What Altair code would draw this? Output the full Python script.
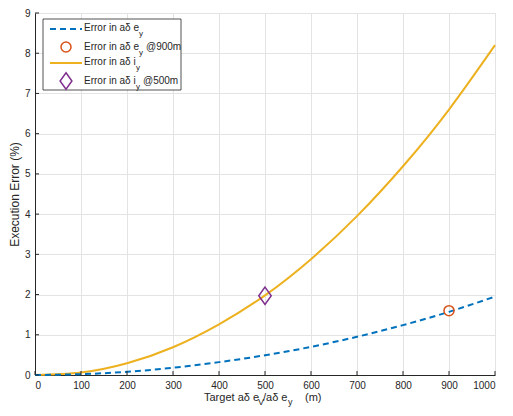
import altair as alt
import pandas as pd

# ---- data ----
target = [0, 100, 200, 300, 400, 500, 600, 700, 800, 900, 1000]
err_e = [0.0, 0.02, 0.08, 0.18, 0.32, 0.49, 0.70, 0.95, 1.24, 1.57, 1.95]
err_i = [0.0, 0.06, 0.29, 0.69, 1.26, 1.98, 2.88, 3.95, 5.19, 6.60, 8.20]
marker_e_x = [900]
marker_e_y = [1.60]
marker_i_x = [500]
marker_i_y = [1.97]
x_ticks = [0, 100, 200, 300, 400, 500, 600, 700, 800, 900, 1000]
y_ticks = [0, 1, 2, 3, 4, 5, 6, 7, 8, 9]

W, H = 460, 362
FONT = "Liberation Sans"
TXT = "#262626"
BLUE = "#0072BD"
ORANGE = "#EDB120"
RED = "#D95319"
PURPLE = "#7E2F8E"
DIAMOND = "M0,-1L0.72,0L0,1L-0.72,0Z"
YTITLE = "Execution Error (%)"

df = pd.DataFrame({"target": target, "err_e": err_e, "err_i": err_i})
dme = pd.DataFrame({"x": marker_e_x, "y": marker_e_y})
dmi = pd.DataFrame({"x": marker_i_x, "y": marker_i_y})
dxt = pd.DataFrame({"xt": x_ticks})
dyt = pd.DataFrame({"yt": y_ticks})
one = pd.DataFrame({"a": [0]})

xs = alt.Scale(domain=[0, 1000], nice=False, zero=False)
ys = alt.Scale(domain=[0, 9], nice=False, zero=False)

xaxis = alt.Axis(values=x_ticks, format="d")
yaxis = alt.Axis(values=y_ticks, format="d")


def X(field):
    return alt.X(field, type="quantitative", scale=xs, axis=xaxis, title=None)


def Y(field):
    return alt.Y(field, type="quantitative", scale=ys, axis=yaxis, title=YTITLE)


line_i = alt.Chart(df).mark_line(color=ORANGE, strokeWidth=2, interpolate="natural").encode(
    x=X("target"), y=Y("err_i"))
line_e = alt.Chart(df).mark_line(color=BLUE, strokeWidth=2, strokeDash=[6, 4],
                                  interpolate="natural").encode(
    x=X("target"), y=Y("err_e"))
pt_e = alt.Chart(dme).mark_point(shape="circle", size=100, color=RED, strokeWidth=1.5,
                                 filled=False, opacity=1).encode(x=X("x"), y=Y("y"))
pt_i = alt.Chart(dmi).mark_point(shape=DIAMOND, size=300, color=PURPLE, strokeWidth=1.5,
                                 filled=False, opacity=1).encode(x=X("x"), y=Y("y"))

xtick = alt.Chart(dxt).mark_rule(color=TXT, strokeWidth=1).encode(
    x=X("xt"), y=alt.value(H), y2=alt.value(H - 4))
ytick = alt.Chart(dyt).mark_rule(color=TXT, strokeWidth=1).encode(
    y=Y("yt"), x=alt.value(0), x2=alt.value(4))


def txt(s, x, y, size=10, color=TXT):
    return alt.Chart(one).mark_text(text=s, align="left", baseline="middle", font=FONT,
                                    fontSize=size, color=color).encode(
        x=alt.value(x), y=alt.value(y))


# legend
box = alt.Chart(one).mark_rect(fill="white", stroke=TXT, strokeWidth=0.8).encode(
    x=alt.value(8), x2=alt.value(146), y=alt.value(6), y2=alt.value(77))
leg_l1 = alt.Chart(one).mark_rule(color=BLUE, strokeWidth=2, strokeDash=[6, 4]).encode(
    x=alt.value(15), x2=alt.value(47), y=alt.value(16))
leg_l3 = alt.Chart(one).mark_rule(color=ORANGE, strokeWidth=2).encode(
    x=alt.value(15), x2=alt.value(47), y=alt.value(50))
leg_m2 = alt.Chart(one).mark_point(shape="circle", size=100, color=RED, strokeWidth=1.5,
                                   filled=False, opacity=1).encode(
    x=alt.value(31), y=alt.value(34))
leg_m4 = alt.Chart(one).mark_point(shape=DIAMOND, size=270, color=PURPLE, strokeWidth=1.5,
                                   filled=False, opacity=1).encode(
    x=alt.value(31), y=alt.value(68))

legend = [
    box, leg_l1, leg_l3, leg_m2, leg_m4,
    txt("Error in aδ e", 49, 15), txt("y", 104, 21, 8),
    txt("Error in aδ e", 49, 34), txt("y", 104, 40, 8), txt("@900m", 111, 34),
    txt("Error in aδ i", 49, 49), txt("y", 101, 55, 8),
    txt("Error in aδ i", 49, 68), txt("y", 101, 74, 8), txt("@500m", 108, 68),
]

# x axis title with subscripts
xtitle = [
    txt("Target aδ e", 169, 385, 11), txt("V", 223, 389, 9),
    txt("/aδ e", 228, 385, 11), txt("y", 253, 389, 9),
    txt("(m)", 270, 385, 11),
]

chart = alt.layer(line_i, line_e, xtick, ytick, pt_e, pt_i, *legend, *xtitle).properties(
    width=W, height=H,
    autosize=alt.AutoSizeParams(type="none"),
    padding={"left": 27, "top": 5, "right": 10, "bottom": 33},
).configure_view(stroke=None).configure(background="white").configure_axis(
    grid=True, gridColor="#e3e3e3", gridWidth=1, ticks=False,
    domainColor=TXT, domainWidth=1, labelColor=TXT,
    labelFont=FONT, labelFontSize=10, labelPadding=5,
    titleFont=FONT, titleFontSize=12, titleFontWeight="normal",
    titleColor=TXT, titlePadding=3,
)

chart.save("out.html", embed_options={"renderer": "svg", "actions": False})
